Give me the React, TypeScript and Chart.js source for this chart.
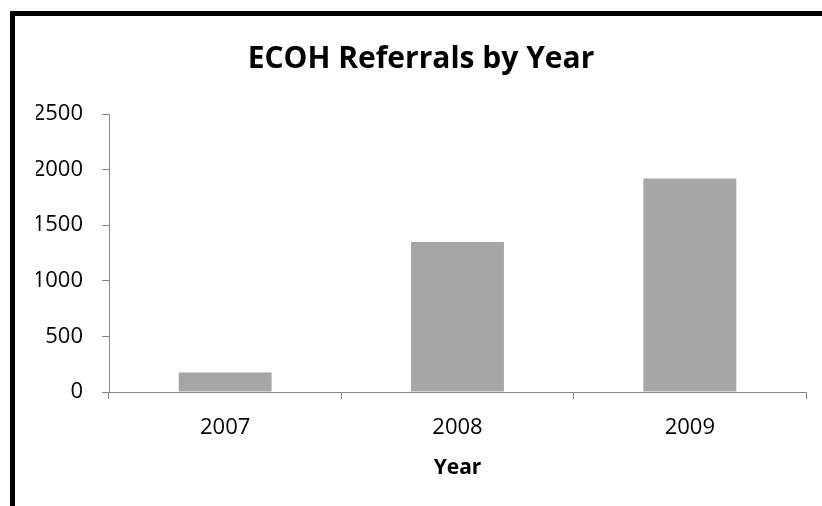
import React, { useEffect, useRef } from "react";
import { Chart, registerables } from "chart.js";

Chart.register(...registerables);

const categories = ["2007", "2008", "2009"];
const referrals = [175, 1350, 1920];
const titleText = "ECOH Referrals by Year";
const xTitle = "Year";
const yMax = 2500;
const yStep = 500;

export default function App() {
  const canvasRef = useRef<HTMLCanvasElement | null>(null);

  useEffect(() => {
    document.body.style.margin = "0";
    const ctx = canvasRef.current!;
    const chart = new Chart(ctx, {
      type: "bar",
      data: {
        labels: categories,
        datasets: [
          {
            label: "Referrals",
            data: referrals,
            backgroundColor: "#a6a6a6",
            borderWidth: 0,
            barPercentage: 0.4,
            categoryPercentage: 1,
          },
        ],
      },
      options: {
        animation: false,
        responsive: false,
        maintainAspectRatio: false,
        layout: { padding: { left: 36, right: 16, top: 0, bottom: 0 } },
        plugins: {
          legend: { display: false },
          tooltip: { enabled: false },
          title: {
            display: true,
            text: titleText,
            color: "#000",
            font: { family: "'Open Sans'", size: 30, weight: "bold" },
            padding: { top: 41, bottom: 37 },
          },
        },
        scales: {
          x: {
            afterFit: (s: any) => {
              s.height = 114;
            },
            grid: {
              offset: true,
              drawOnChartArea: false,
              tickLength: 7,
              color: "#868686",
            },
            border: { color: "#868686", width: 1 },
            ticks: {
              color: "#000",
              font: { family: "'Open Sans'", size: 22 },
              padding: 16,
            },
            title: {
              display: true,
              text: xTitle,
              color: "#000",
              font: { family: "'Open Sans'", size: 21, weight: "bold" },
              padding: { top: 0, bottom: 25 },
            },
          },
          y: {
            min: 0,
            max: yMax,
            afterFit: (s: any) => {
              s.width = 73;
            },
            grid: {
              drawOnChartArea: false,
              tickLength: 7,
              color: "#868686",
            },
            border: { color: "#868686", width: 1 },
            ticks: {
              stepSize: yStep,
              color: "#000",
              font: { family: "'Open Sans'", size: 22 },
              padding: 19,
              callback: (v: any) => String(v),
            },
          },
        },
      },
    });
    return () => chart.destroy();
  }, []);

  return (
    <div style={{ position: "relative", width: 822, height: 506, background: "#fff" }}>
      <canvas ref={canvasRef} width={822} height={506} style={{ display: "block" }} />
      <div
        style={{
          position: "absolute",
          left: 10,
          top: 11,
          right: 0,
          bottom: 0,
          borderLeft: "5px solid #000",
          borderTop: "5px solid #000",
          pointerEvents: "none",
        }}
      />
    </div>
  );
}
